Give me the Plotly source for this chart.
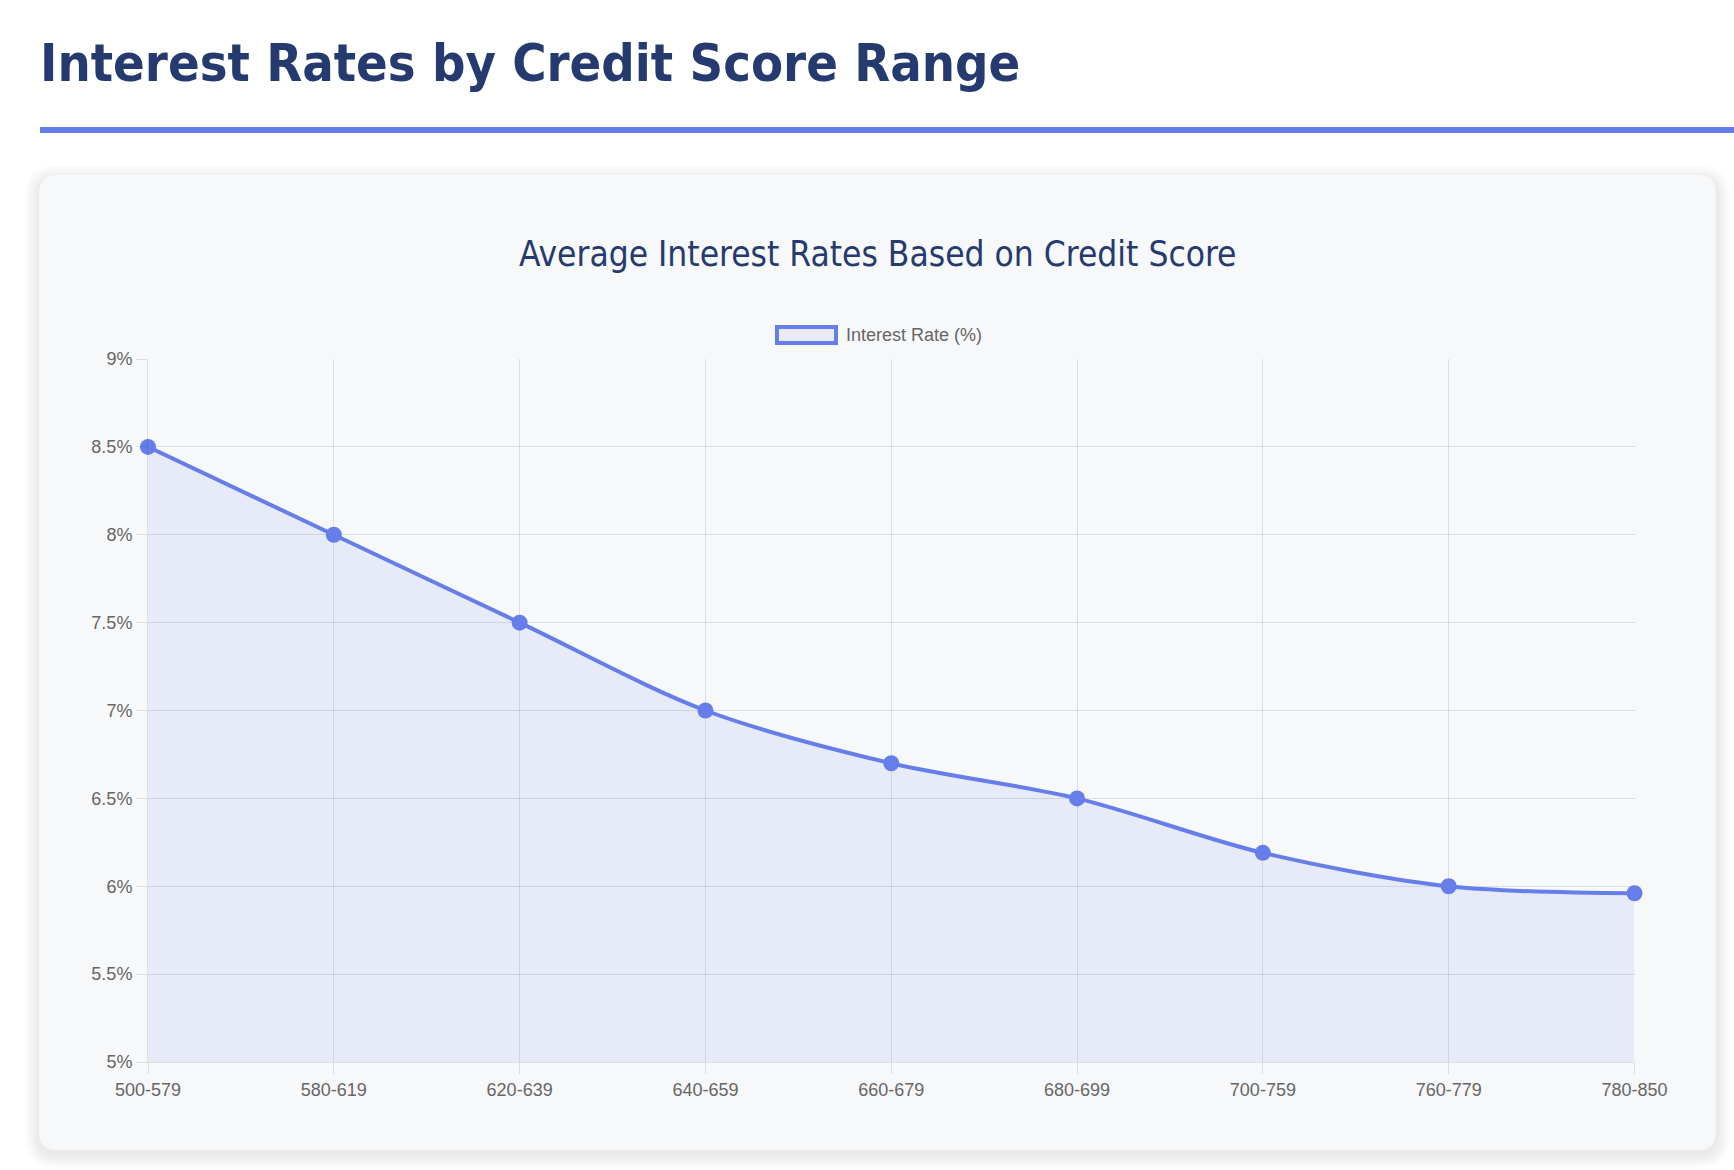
import plotly.graph_objects as go

# ---- data ----
categories = ["500-579", "580-619", "620-639", "640-659", "660-679",
              "680-699", "700-759", "760-779", "780-850"]
rates = [8.5, 8.0, 7.5, 7.0, 6.7, 6.5, 6.19, 6.0, 5.96]
y_tick_values = [5, 5.5, 6, 6.5, 7, 7.5, 8, 8.5, 9]
y_tick_labels = ["5%", "5.5%", "6%", "6.5%", "7%", "7.5%", "8%", "8.5%", "9%"]
series_name = "Interest Rate (%)"
page_title = "Interest Rates by Credit Score Range"
chart_title = "Average Interest Rates Based on Credit Score"

W, H = 1734, 1170
ACCENT = "#667eea"
NAVY = "#253a6e"
HEAD_FONT = "DejaVu Sans Condensed, DejaVu Sans, sans-serif"
TICK_FONT = "Liberation Sans, Arial, sans-serif"


def px(x):
    return x / W


def py(y):
    return 1 - y / H


def rounded_rect(x0, y0, x1, y1, r):
    rx, ry = r / W, r / H
    X0, X1 = px(x0), px(x1)
    Y0, Y1 = py(y0), py(y1)  # Y0 top (larger), Y1 bottom
    return (f"M {X0+rx},{Y0} L {X1-rx},{Y0} Q {X1},{Y0} {X1},{Y0-ry} "
            f"L {X1},{Y1+ry} Q {X1},{Y1} {X1-rx},{Y1} "
            f"L {X0+rx},{Y1} Q {X0},{Y1} {X0},{Y1+ry} "
            f"L {X0},{Y0-ry} Q {X0},{Y0} {X0+rx},{Y0} Z")


fig = go.Figure()
fig.add_trace(go.Scatter(
    x=categories, y=rates, name=series_name,
    mode="lines+markers",
    line=dict(color=ACCENT, width=4, shape="spline", smoothing=0.9),
    marker=dict(color=ACCENT, size=16),
    fill="tozeroy", fillcolor="rgba(102,126,234,0.1)",
    cliponaxis=False,
    showlegend=False,
))

shapes = []
# card shadow
card = (39, 175, 1716, 1150)
for i in range(1, 8):
    e = i * 2
    shapes.append(dict(type="path", xref="paper", yref="paper",
                       path=rounded_rect(card[0] - e, card[1] - e + 4, card[2] + e, card[3] + e + 4, 18 + e),
                       fillcolor="rgba(0,0,0,0.010)", line=dict(width=0), layer="below"))
shapes.append(dict(type="path", xref="paper", yref="paper",
                   path=rounded_rect(*card, 18),
                   fillcolor="#f7f8fa", line=dict(width=0), layer="below"))
# title underline
shapes.append(dict(type="rect", xref="paper", yref="paper",
                   x0=px(40), x1=px(1734), y0=py(127), y1=py(133),
                   fillcolor=ACCENT, line=dict(width=0), layer="below"))
# legend box
shapes.append(dict(type="rect", xref="paper", yref="paper",
                   x0=px(777), x1=px(836), y0=py(327), y1=py(343),
                   fillcolor="#e9ebf8", line=dict(color=ACCENT, width=4)))

annotations = [
    dict(text=f"<b>{page_title}</b>", x=px(38), y=py(63), xref="paper", yref="paper",
         xanchor="left", yanchor="middle", showarrow=False,
         font=dict(family=HEAD_FONT, size=52, color=NAVY)),
    dict(text=chart_title, x=px(878), y=py(254), xref="paper", yref="paper",
         xanchor="center", yanchor="middle", showarrow=False,
         font=dict(family=HEAD_FONT, size=35, color=NAVY)),
    dict(text=series_name, x=px(844), y=py(335), xref="paper", yref="paper",
         xanchor="left", yanchor="middle", showarrow=False,
         font=dict(family=TICK_FONT, size=18, color="#666666")),
]

grid = "rgba(0,0,0,0.1)"
fig.update_layout(
    width=W, height=H,
    margin=dict(l=0, r=0, t=0, b=0, pad=0, autoexpand=False),
    paper_bgcolor="#ffffff", plot_bgcolor="rgba(0,0,0,0)",
    shapes=shapes, annotations=annotations,
    xaxis=dict(domain=[px(148), px(1634.5)], type="category",
               range=[0, len(categories) - 1], automargin=False,
               showgrid=True, gridcolor=grid, gridwidth=1,
               showline=True, linecolor=grid, linewidth=1,
               ticks="outside", ticklen=11, tickcolor=grid,
               tickfont=dict(family=TICK_FONT, size=18, color="#666666"),
               zeroline=False, fixedrange=True),
    yaxis=dict(domain=[py(1062), py(359)], range=[5, 9], automargin=False,
               tickvals=y_tick_values, ticktext=y_tick_labels,
               showgrid=True, gridcolor=grid, gridwidth=1,
               showline=True, linecolor=grid, linewidth=1,
               ticks="outside", ticklen=11, tickcolor=grid,
               tickfont=dict(family=TICK_FONT, size=18, color="#666666"),
               zeroline=False, fixedrange=True),
    showlegend=False,
)

fig.write_html("out.html")
